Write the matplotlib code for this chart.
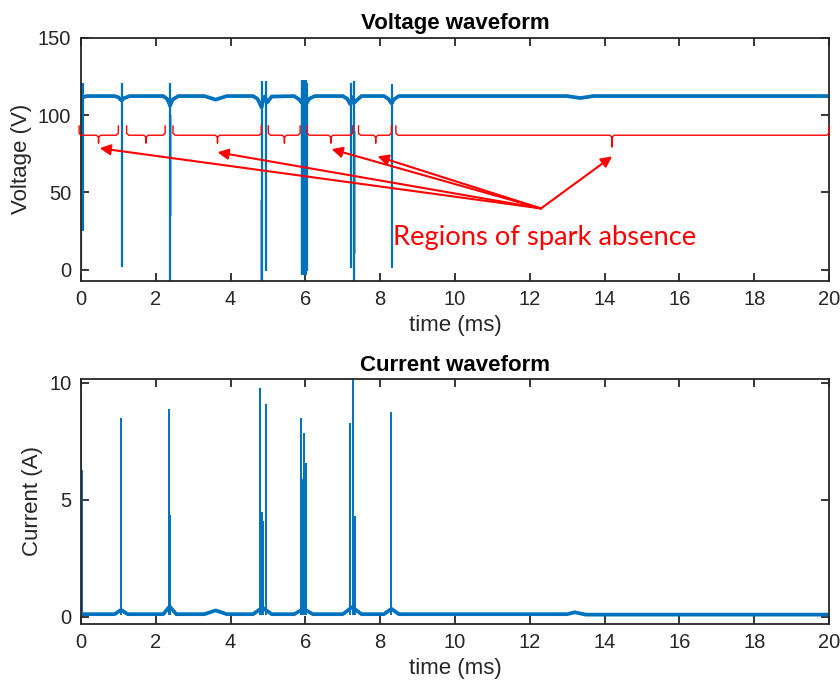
import numpy as np
import matplotlib.pyplot as plt

plt.rcParams['font.family'] = ['Liberation Sans', 'DejaVu Sans']

BLUE = '#0072BD'
RED = '#FF0000'
DARK = '#262626'

# voltage baseline breakpoints (ms, V)
v_base_t = [0.05, 0.15, 0.9, 1.0, 1.06, 1.09, 1.14, 1.3, 2.2, 2.3, 2.36, 2.38, 2.45, 2.6, 3.3, 3.6, 3.9,
            4.6, 4.72, 4.8, 4.83, 4.88, 4.92, 4.97, 5.1, 5.7, 5.84, 5.9, 6.04, 6.1, 6.25, 7.0, 7.12,
            7.19, 7.21, 7.26, 7.31, 7.37, 7.5, 8.1, 8.22, 8.29, 8.31, 8.36, 8.5, 13.0, 13.35, 13.7, 20.0]
v_base_v = [111.5, 112.3, 112.3, 111.5, 110.0, 109.5, 110.8, 112.3, 112.3, 110.5, 107.5, 106.0, 110.0, 112.3, 112.3, 110.0, 112.3,
            112.3, 110.5, 106.5, 105.0, 111.5, 112.0, 108.0, 112.0, 112.3, 110.0, 108.0, 108.0, 110.5, 112.3, 112.3, 110.5,
            107.5, 107.0, 111.5, 108.0, 109.5, 112.3, 112.3, 110.5, 108.0, 107.5, 110.0, 112.3, 112.3, 111.0, 112.3, 112.3]

# voltage spark drops (ms, top V, bottom V)
v_spk_t = [0.01, 0.05, 1.09, 2.38, 4.83, 4.94, 5.90, 5.92, 5.94, 5.96, 5.98, 6.00, 6.02, 6.04, 7.21, 7.31, 8.31]
v_spk_hi = [121, 121, 121, 121, 122, 122, 123, 122, 123, 121, 123, 122, 123, 121, 121, 122, 120]
v_spk_lo = [-1, 25, 2, -10, -10, -1, -3, -2, -3, -1, -3, -2, -3, -1, 1.5, -10, 1]
# fainter double traces
v_faint_t = [2.40, 4.80, 7.33]
v_faint_hi = [100, 45, 90]
v_faint_lo = [35, -10, 10]

# current baseline breakpoints (ms, A)
i_base_t = [0.0, 0.2, 0.9, 1.07, 1.25, 2.2, 2.37, 2.55, 3.3, 3.6, 3.9, 4.6, 4.85, 5.1, 5.7,
            5.95, 6.2, 7.0, 7.25, 7.5, 8.1, 8.3, 8.5, 13.0, 13.2, 13.5, 20.0]
i_base_v = [0.12, 0.12, 0.12, 0.3, 0.12, 0.12, 0.45, 0.12, 0.12, 0.28, 0.12, 0.12, 0.4, 0.12, 0.12,
            0.35, 0.12, 0.12, 0.42, 0.12, 0.12, 0.35, 0.12, 0.12, 0.2, 0.1, 0.1]

# current spikes (ms, peak A)
i_spk_t = [0.0, 0.04, 1.07, 2.35, 2.39, 4.79, 4.84, 4.86, 4.94, 5.89, 5.93, 5.97, 6.02, 7.19, 7.27, 7.32, 8.28]
i_spk_pk = [10.3, 6.3, 8.5, 8.9, 4.35, 9.8, 4.5, 4.1, 9.1, 8.5, 5.9, 7.85, 6.6, 8.3, 10.3, 4.3, 8.75]

# annotation braces (start, end, tip) in ms
br_start = [-0.05, 1.22, 2.46, 5.01, 6.05, 7.42, 8.42]
br_end = [1.0, 2.25, 4.82, 5.86, 7.26, 8.30, 20.0]
br_tip = [0.47, 1.74, 3.65, 5.44, 6.68, 7.88, 14.2]
br_depth = [82, 82, 82, 82, 82, 82, 79.5]

# arrows: origin and targets (ms, V)
arr_from = (12.3, 39.7)
arr_to_t = [0.5, 3.65, 6.7, 7.93, 14.2]
arr_to_v = [78.6, 76.0, 78.0, 73.3, 73.3]


def style_axes(ax):
    for s in ax.spines.values():
        s.set_linewidth(1.3)
        s.set_color(DARK)
    ax.tick_params(direction='in', top=True, right=True, length=6, width=1.3,
                   colors=DARK, labelsize=14.5, pad=7)
    ax.set_xlim(0, 20)
    ax.set_xticks(np.arange(0, 21, 2))
    ax.set_xlabel('time (ms)', fontsize=16, color=DARK)


def draw_brace(ax, t0, t1, tm, tip, top=93, line=87):
    r = 0.06
    xs = [t0, t0, t0 + r, tm - r, tm, tm, tm, tm + r, t1 - r, t1, t1]
    ys = [top, line + 1.2, line, line, line - 1.2, tip, line - 1.2, line, line, line + 1.2, top]
    ax.plot(xs, ys, color=RED, lw=1.0, clip_on=False, zorder=4)


fig = plt.figure(figsize=(8.4, 6.87), dpi=100)
ax1 = fig.add_axes([0.0964, 0.5914, 0.8905, 0.3537])
ax2 = fig.add_axes([0.0964, 0.0924, 0.8905, 0.3559])

# voltage
ax1.plot(v_base_t, v_base_v, color=BLUE, lw=2.7, solid_joinstyle='round')
ax1.vlines(v_spk_t, v_spk_lo, v_spk_hi, color=BLUE, lw=1.6)
ax1.vlines(v_faint_t, v_faint_lo, v_faint_hi, color=BLUE, lw=1.2, alpha=0.55)
ax1.set_ylim(-7, 150)
ax1.set_yticks([0, 50, 100, 150])
ax1.set_ylabel('Voltage (V)', fontsize=16, color=DARK)
ax1.set_title('Voltage waveform', fontsize=16, fontweight='bold', color='black', pad=6)
style_axes(ax1)

for t0, t1, tm, d in zip(br_start, br_end, br_tip, br_depth):
    draw_brace(ax1, t0, t1, tm, d)

for tx, ty in zip(arr_to_t, arr_to_v):
    ax1.annotate('', xy=(tx, ty), xytext=arr_from,
                 arrowprops=dict(arrowstyle='-|>', color=RED, lw=1.5,
                                 mutation_scale=16, shrinkA=0, shrinkB=0))
ax1.text(12.4, 21, 'Regions of spark absence', color=RED, fontsize=19.7,
         family=['Lato', 'DejaVu Sans'], ha='center', va='center')

# current
ax2.plot(i_base_t, i_base_v, color=BLUE, lw=2.7, solid_joinstyle='round')
ax2.vlines(i_spk_t, 0.1, i_spk_pk, color=BLUE, lw=1.4)
ax2.set_ylim(-0.28, 10.17)
ax2.set_yticks([0, 5, 10])
ax2.set_ylabel('Current (A)', fontsize=16, color=DARK)
ax2.set_title('Current waveform', fontsize=16, fontweight='bold', color='black', pad=6)
style_axes(ax2)

fig.savefig('out.png', dpi=100)
